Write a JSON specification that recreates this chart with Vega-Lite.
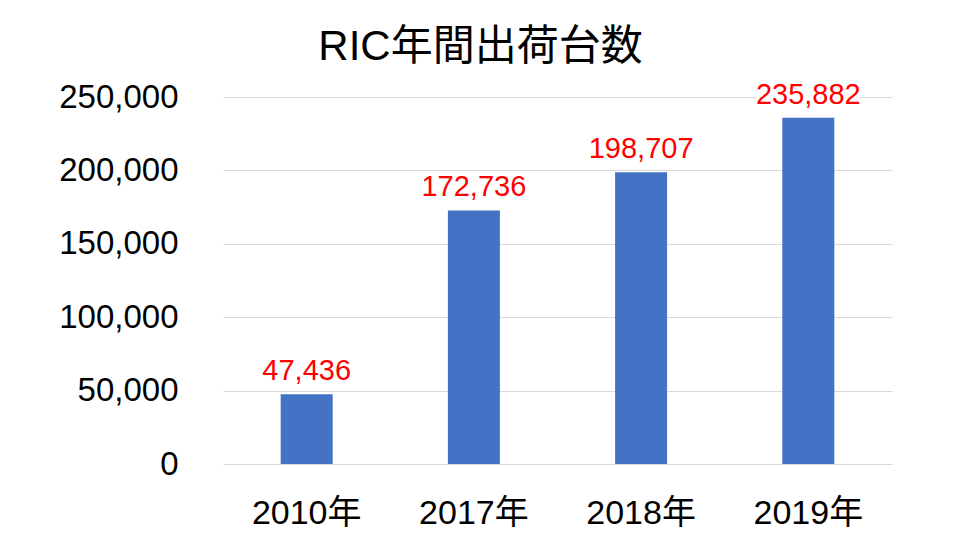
{
  "$schema": "https://vega.github.io/schema/vega-lite/v6.json",
  "width": 669,
  "height": 367,
  "autosize": {"type": "none"},
  "padding": {"left": 223, "top": 97, "right": 62, "bottom": 91},
  "background": "white",
  "title": {
    "text": "RIC年間出荷台数",
    "font": "Liberation Sans, Noto Sans CJK JP",
    "fontSize": 42,
    "fontWeight": "normal",
    "color": "#000000",
    "anchor": "middle",
    "frame": "group",
    "dx": -77,
    "baseline": "alphabetic",
    "offset": -21
  },
  "data": {
    "values": [
      {"year": "2010年", "units": 47436},
      {"year": "2017年", "units": 172736},
      {"year": "2018年", "units": 198707},
      {"year": "2019年", "units": 235882}
    ]
  },
  "encoding": {
    "x": {
      "field": "year",
      "type": "nominal",
      "sort": null,
      "scale": {"paddingInner": 0.689, "paddingOuter": 0.345},
      "axis": {
        "title": null,
        "labelAngle": 0,
        "ticks": false,
        "tickSize": 0,
        "domain": false,
        "labelPadding": 59,
        "labelBaseline": "alphabetic",
        "labelFont": "Liberation Sans, Noto Sans CJK JP",
        "labelFontSize": 34,
        "labelColor": "#000000"
      }
    },
    "y": {
      "field": "units",
      "type": "quantitative",
      "scale": {"domain": [0, 250000], "nice": false},
      "axis": {
        "title": null,
        "values": [0, 50000, 100000, 150000, 200000, 250000],
        "format": ",d",
        "grid": true,
        "gridColor": "#d9d9d9",
        "gridWidth": 1,
        "domain": false,
        "ticks": false,
        "tickSize": 0,
        "labelPadding": 45,
        "labelFlush": false,
        "labelFont": "Liberation Sans",
        "labelFontSize": 33,
        "labelColor": "#000000"
      }
    }
  },
  "layer": [
    {"mark": {"type": "bar", "color": "#4472C4"}},
    {
      "mark": {"type": "text", "align": "center", "baseline": "alphabetic", "dy": -14, "font": "Liberation Sans", "fontSize": 29, "fill": "white", "stroke": "white", "strokeWidth": 8},
      "encoding": {"text": {"field": "units", "type": "quantitative", "format": ",d"}}
    },
    {
      "mark": {"type": "text", "align": "center", "baseline": "alphabetic", "dy": -14, "font": "Liberation Sans", "fontSize": 29, "fill": "#FF0000"},
      "encoding": {"text": {"field": "units", "type": "quantitative", "format": ",d"}}
    }
  ],
  "config": {"view": {"stroke": null}}
}
